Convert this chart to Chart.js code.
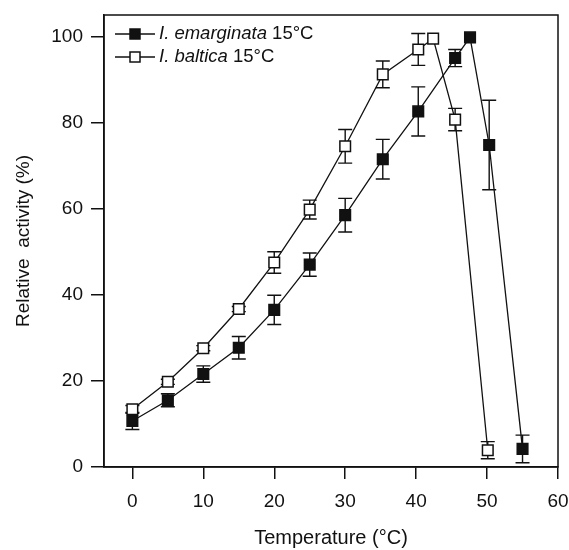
<!DOCTYPE html>
<html>
<head>
<meta charset="utf-8">
<script src="https://cdn.jsdelivr.net/npm/chart.js@4.4.1/dist/chart.umd.min.js"></script>
<style>
  html, body { margin: 0; padding: 0; background: #fff; }
  #wrap { position: relative; width: 569px; height: 550px; }
</style>
</head>
<body>
<div id="wrap"><canvas id="chart" width="569" height="550"></canvas></div>
<script>
// I. emarginata 15°C (filled squares)
const emargTemp = [0, 5, 10, 15, 20, 25, 30, 35.3, 40.3, 45.5, 47.6, 50.3, 55];
const emargAct  = [10.7, 15.5, 21.6, 27.7, 36.5, 47, 58.5, 71.5, 82.6, 95, 99.8, 74.8, 4.2];
const emargErr  = [2, 1.5, 1.9, 2.6, 3.4, 2.7, 3.9, 4.6, 5.7, 2, 0, 10.4, 3.2];

// I. baltica 15°C (open squares)
const balTemp = [0, 5, 10, 15, 20, 25, 30, 35.3, 40.3, 42.4, 45.5, 50.1];
const balAct  = [13.4, 19.8, 27.6, 36.7, 47.5, 59.8, 74.5, 91.2, 97, 99.5, 80.7, 3.9];
const balErr  = [0.9, 0.6, 0.6, 0.6, 2.5, 2.2, 3.9, 3.1, 3.7, 0, 2.6, 2];

const xTicks = [0, 10, 20, 30, 40, 50, 60];
const yTicks = [0, 20, 40, 60, 80, 100];

const seriesNames = ['I. emarginata', 'I. baltica'];
const seriesSuffix = ' 15°C';

const INK = '#111';
const FONT = '"Liberation Sans", Arial, sans-serif';

const toPts = (xs, ys) => xs.map((x, i) => ({ x: x, y: ys[i] }));

// error bars, drawn under the lines and markers
const errorBars = {
  id: 'errorBars',
  beforeDatasetsDraw(chart) {
    const ctx = chart.ctx;
    const xs = chart.scales.x, ys = chart.scales.y;
    ctx.save();
    ctx.strokeStyle = INK;
    ctx.lineWidth = 1.4;
    chart.data.datasets.forEach(ds => {
      ds.data.forEach((p, i) => {
        const e = ds.errors[i];
        if (!e) return;
        const px = xs.getPixelForValue(p.x);
        const top = ys.getPixelForValue(p.y + e);
        const bot = ys.getPixelForValue(p.y - e);
        ctx.beginPath();
        ctx.moveTo(px, top); ctx.lineTo(px, bot);
        ctx.moveTo(px - 7, top); ctx.lineTo(px + 7, top);
        ctx.moveTo(px - 7, bot); ctx.lineTo(px + 7, bot);
        ctx.stroke();
      });
    });
    ctx.restore();
  }
};

// frame around the plot and legend with italic species names
const frameAndLegend = {
  id: 'frameAndLegend',
  afterDraw(chart) {
    const ctx = chart.ctx;
    const a = chart.chartArea;
    ctx.save();
    ctx.strokeStyle = INK;
    ctx.lineWidth = 1.5;
    ctx.strokeRect(a.left, a.top, a.right - a.left, a.bottom - a.top);

    const rows = [a.top + 19, a.top + 42];
    chart.data.datasets.forEach((ds, i) => {
      const y = rows[i];
      ctx.lineWidth = 1.3;
      ctx.beginPath();
      ctx.moveTo(a.left + 11, y); ctx.lineTo(a.left + 51, y);
      ctx.stroke();
      ctx.fillStyle = ds.pointBackgroundColor;
      ctx.fillRect(a.left + 26, y - 5, 10, 10);
      ctx.lineWidth = 1.5;
      ctx.strokeRect(a.left + 26, y - 5, 10, 10);
      ctx.fillStyle = INK;
      ctx.textBaseline = 'middle';
      ctx.font = 'italic 18.5px ' + FONT;
      ctx.fillText(seriesNames[i], a.left + 55, y);
      const w = ctx.measureText(seriesNames[i]).width;
      ctx.font = '18.5px ' + FONT;
      ctx.fillText(seriesSuffix, a.left + 55 + w, y);
    });
    ctx.restore();
  }
};

new Chart(document.getElementById('chart'), {
  type: 'line',
  data: {
    datasets: [
      {
        label: seriesNames[0] + seriesSuffix,
        data: toPts(emargTemp, emargAct),
        errors: emargErr,
        borderColor: INK,
        borderWidth: 1.3,
        pointStyle: 'rect',
        pointRadius: 7.5,
        pointBorderWidth: 1.5,
        pointBackgroundColor: INK,
        pointBorderColor: INK,
        tension: 0
      },
      {
        label: seriesNames[1] + seriesSuffix,
        data: toPts(balTemp, balAct),
        errors: balErr,
        borderColor: INK,
        borderWidth: 1.3,
        pointStyle: 'rect',
        pointRadius: 7.5,
        pointBorderWidth: 1.5,
        pointBackgroundColor: '#fff',
        pointBorderColor: INK,
        tension: 0
      }
    ]
  },
  options: {
    responsive: false,
    animation: false,
    layout: { padding: { left: 0, right: 11, top: 15, bottom: 0 } },
    plugins: {
      legend: { display: false },
      tooltip: { enabled: false }
    },
    scales: {
      x: {
        type: 'linear',
        min: -4,
        max: 60,
        afterBuildTicks: s => { s.ticks = xTicks.map(v => ({ value: v })); },
        afterFit: s => { s.height = 83; s.paddingLeft = 0; s.paddingRight = 0; },
        grid: { drawOnChartArea: false, color: INK, lineWidth: 1.5, tickLength: 12 },
        border: { color: INK, width: 1.5 },
        ticks: { color: INK, font: { family: FONT, size: 19 }, padding: 11 },
        title: {
          display: true,
          text: 'Temperature (°C)',
          color: INK,
          font: { family: FONT, size: 20 },
          padding: { top: 14, bottom: 0 }
        }
      },
      y: {
        min: 0,
        max: 105,
        afterBuildTicks: s => { s.ticks = yTicks.map(v => ({ value: v })); },
        afterFit: s => { s.width = 104; s.paddingTop = 0; s.paddingBottom = 0; },
        grid: { drawOnChartArea: false, color: INK, lineWidth: 1.5, tickLength: 13 },
        border: { color: INK, width: 1.5 },
        ticks: { color: INK, font: { family: FONT, size: 19 }, padding: 8 },
        title: {
          display: true,
          text: 'Relative  activity (%)',
          color: INK,
          font: { family: FONT, size: 19 },
          padding: { top: 12, bottom: 4 }
        }
      }
    }
  },
  plugins: [errorBars, frameAndLegend]
});
</script>
</body>
</html>
